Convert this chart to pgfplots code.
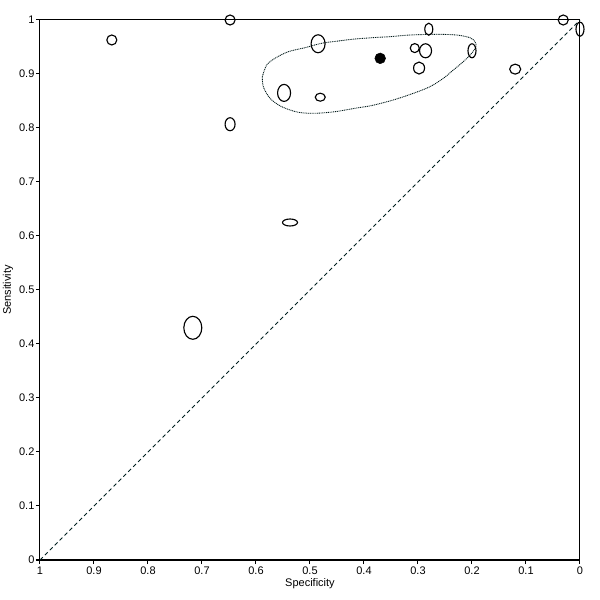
\documentclass[border=0pt]{standalone}
\usepackage{fontspec}
\setmainfont{Liberation Sans}
\usepackage{pgfplots}
\pgfplotsset{compat=1.18}

% study estimates: specificity, sensitivity, ellipse width/height (px)
\pgfplotstableread{
spec  sens  w   h
0.867 0.963 11  11
0.648 1.000 11  11
0.648 0.807 11  14
0.548 0.865 14  18
0.485 0.956 15  19
0.481 0.857 11  9
0.280 0.983 9   13
0.306 0.948 10  10
0.286 0.943 13  15
0.298 0.911 12  13
0.200 0.943 9   15
0.120 0.909 12  11
0.031 1.000 11  11
0.000 0.983 9   15
0.537 0.625 16  8
0.717 0.430 19  24
}\studies

\pgfdeclareplotmark{ell}{%
  \pgfpathellipse{\pgfpointorigin}{\pgfpoint{\rx pt}{0pt}}{\pgfpoint{0pt}{\ry pt}}%
  \pgfusepathqstroke}

\begin{document}
\begin{tikzpicture}
\begin{axis}[
  scale only axis,
  width=405pt, height=405pt,
  xmin=0, xmax=1, ymin=0, ymax=1,
  x dir=reverse,
  clip=false,
  axis line style={line width=0.75pt},
  tick pos=left,
  tick align=outside,
  major tick length=3pt,
  tick style={black, line width=0.75pt},
  xtick={0,0.1,...,1}, ytick={0,0.1,...,1},
  xticklabels={0,0.1,0.2,0.3,0.4,0.5,0.6,0.7,0.8,0.9,1},
  yticklabels={0,0.1,0.2,0.3,0.4,0.5,0.6,0.7,0.8,0.9,1},
  font=\fontsize{8.25}{10}\selectfont,
  /pgf/number format/assume math mode=true,
  xticklabel style={inner sep=1pt, yshift=-1pt},
  yticklabel style={inner sep=1pt},
  xlabel={Specificity},
  ylabel={Sensitivity},
  xlabel style={at={(axis description cs:0.5,-0.0444)}, anchor=center},
  ylabel style={at={(axis description cs:-0.0593,0.5)}, anchor=center},
]
% chance line
\addplot[color=black!75!teal, dash pattern=on 3pt off 2.2pt, line width=0.6pt] coordinates {(1,0) (0,1)};
% confidence region
\addplot[color=black!80!teal, dash pattern=on 0.75pt off 0.6pt, line width=0.65pt, smooth, tension=0.5] coordinates {
(0.5883,0.8950) (0.5802,0.9167) (0.5648,0.9291) (0.5402,0.9413) (0.5093,0.9487)
(0.4783,0.9569) (0.4476,0.9611) (0.4167,0.9648) (0.3796,0.9676) (0.3519,0.9691)
(0.3148,0.9722) (0.2654,0.9735) (0.2283,0.9722) (0.2037,0.9672) (0.1944,0.9598)
(0.1926,0.9506) (0.2006,0.9383) (0.2161,0.9228) (0.2346,0.9074) (0.2531,0.8920)
(0.2778,0.8765) (0.3087,0.8642) (0.3457,0.8519) (0.3852,0.8417) (0.4167,0.8365)
(0.4537,0.8302) (0.4907,0.8272) (0.5217,0.8291) (0.5524,0.8394) (0.5741,0.8550)
(0.5865,0.8765) (0.5883,0.8950)
};
% studies
\addplot[only marks, mark=ell, line width=0.85pt,
  visualization depends on={(\thisrow{w}-1)*0.375 \as \rx},
  visualization depends on={(\thisrow{h}-1)*0.375 \as \ry},
] table[x=spec, y=sens] {\studies};
% summary point
\addplot[only marks, mark=*, mark size=4pt, black] coordinates {(0.370,0.929)};
\end{axis}
\pgfresetboundingbox
\path (-30pt,-30pt) rectangle (420pt,420pt);
\end{tikzpicture}
\end{document}
